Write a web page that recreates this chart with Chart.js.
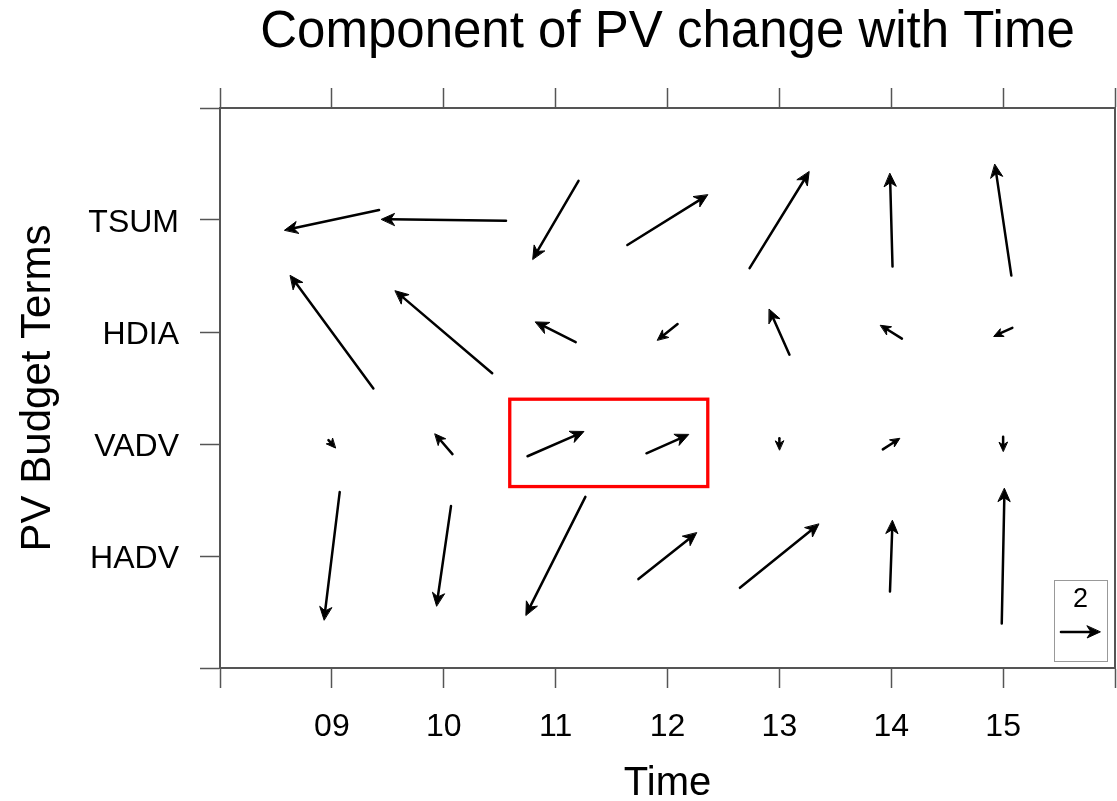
<!DOCTYPE html>
<html lang="en">
<head>
    <meta charset="UTF-8">
    <title>Component of PV change with Time</title>
    <script src="https://cdn.jsdelivr.net/npm/chart.js"></script>
    <style>
        html, body { margin: 0; padding: 0; background: #fff; overflow: hidden; }
        #wrap { width: 1117px; height: 801px; }
    </style>
</head>
<body>
    <div id="wrap"><canvas id="pvChart"></canvas></div>

    <script>
        // x positions (hours) and their labels
        const times = [9, 10, 11, 12, 13, 14, 15];
        const timeLabels = ['09', '10', '11', '12', '13', '14', '15'];
        // budget terms, bottom to top
        const terms = ['HADV', 'VADV', 'HDIA', 'TSUM'];

        // vector components (u = along time, v = along terms), one row per term
        const uHADV = [-0.80, -0.74, -3.04, 2.97, 4.03, 0.13, 0.14];
        const vHADV = [-6.53, -5.10, -6.04, 2.36, 3.25, 3.62, 6.89];
        const uVADV = [0.35, -0.89, 2.87, 2.15, 0.00, 0.86, 0.00];
        const vVADV = [-0.40, 1.03, 1.25, 0.95, -0.60, 0.55, -0.74];
        const uHDIA = [-4.24, -4.95, -2.05, -1.03, -1.03, -1.09, -0.94];
        const vHDIA = [5.77, 4.21, 1.03, -0.82, 2.32, 0.68, -0.43];
        const uTSUM = [-4.82, -6.36, -2.34, 4.10, 3.04, -0.13, -0.84];
        const vTSUM = [-1.03, 0.08, -4.00, 2.56, 4.92, 4.75, 5.68];

        const uRows = [uHADV, uVADV, uHDIA, uTSUM];
        const vRows = [vHADV, vVADV, vHDIA, vTSUM];

        // reference vector: magnitude 2 drawn as 0.35 time units
        const refMagnitude = 2;
        const refLengthX = 0.35;

        // highlighted region (data coords)
        const boxX = [10.59, 12.36];
        const boxY = [1.62, 2.40];

        const FONT = "'Liberation Sans', Arial, Helvetica, sans-serif";

        let points = [];
        let vecU = [];
        let vecV = [];
        terms.forEach((t, j) => {
            times.forEach((h, i) => {
                points.push({ x: h, y: j + 1 });
                vecU.push(uRows[j][i]);
                vecV.push(vRows[j][i]);
            });
        });

        function arrow(ctx, x0, y0, x1, y1) {
            const len = Math.hypot(x1 - x0, y1 - y0);
            if (len < 0.5) return;
            const ang = Math.atan2(y1 - y0, x1 - x0);
            const head = Math.max(9, Math.min(13, len * 0.4));
            const half = head * 0.46;
            const cos = Math.cos(ang), sin = Math.sin(ang);
            // shaft stops inside the head
            const sx = x1 - cos * head * 0.6, sy = y1 - sin * head * 0.6;
            ctx.beginPath();
            ctx.moveTo(x0, y0);
            ctx.lineTo(sx, sy);
            ctx.stroke();
            ctx.beginPath();
            ctx.moveTo(x1, y1);
            ctx.lineTo(x1 - cos * head - sin * half, y1 - sin * head + cos * half);
            ctx.lineTo(x1 - cos * head * 0.7, y1 - sin * head * 0.7);
            ctx.lineTo(x1 - cos * head + sin * half, y1 - sin * head - cos * half);
            ctx.closePath();
            ctx.fill();
            ctx.lineWidth = 1;
            ctx.stroke();
            ctx.lineWidth = 2.5;
        }

        const vectorPlugin = {
            id: 'vectors',
            afterDatasetsDraw(chart) {
                const ctx = chart.ctx;
                const xs = chart.scales.x, ys = chart.scales.y;
                const area = chart.chartArea;
                const ppu = (xs.getPixelForValue(8 + refLengthX) - xs.getPixelForValue(8)) / refMagnitude;
                const meta = chart.getDatasetMeta(0);

                ctx.save();
                ctx.strokeStyle = '#000';
                ctx.fillStyle = '#000';
                ctx.lineWidth = 2.5;
                ctx.lineCap = 'round';
                ctx.lineJoin = 'round';
                meta.data.forEach((pt, k) => {
                    const dx = vecU[k] * ppu, dy = -vecV[k] * ppu;
                    arrow(ctx, pt.x - dx / 2, pt.y - dy / 2, pt.x + dx / 2, pt.y + dy / 2);
                });

                // red highlight box
                ctx.strokeStyle = '#ff0000';
                ctx.lineWidth = 3.3;
                ctx.lineJoin = 'miter';
                const rx0 = xs.getPixelForValue(boxX[0]), rx1 = xs.getPixelForValue(boxX[1]);
                const ry0 = ys.getPixelForValue(boxY[1]), ry1 = ys.getPixelForValue(boxY[0]);
                ctx.strokeRect(rx0, ry0, rx1 - rx0, ry1 - ry0);

                // reference vector annotation
                const bw = 53, bh = 81;
                const bx = area.right - 8 - bw, by = area.bottom - 7 - bh;
                ctx.fillStyle = '#fff';
                ctx.fillRect(bx, by, bw, bh);
                ctx.strokeStyle = '#999';
                ctx.lineWidth = 1;
                ctx.strokeRect(bx + 0.5, by + 0.5, bw, bh);
                ctx.fillStyle = '#000';
                ctx.font = '27px ' + FONT;
                ctx.textAlign = 'center';
                ctx.textBaseline = 'middle';
                ctx.fillText(String(refMagnitude), bx + bw / 2, by + 20);
                const refPx = refMagnitude * ppu;
                ctx.strokeStyle = '#000';
                ctx.lineWidth = 2.5;
                ctx.lineJoin = 'round';
                arrow(ctx, bx + bw / 2 - refPx / 2, by + 52, bx + bw / 2 + refPx / 2, by + 52);
                ctx.restore();
            }
        };

        const axisColor = '#555';

        new Chart(document.getElementById('pvChart'), {
            type: 'scatter',
            data: {
                datasets: [{
                    data: points,
                    pointRadius: 0,
                    pointHoverRadius: 0
                }]
            },
            options: {
                responsive: true,
                maintainAspectRatio: false,
                animation: false,
                layout: { padding: 0 },
                plugins: {
                    legend: { display: false },
                    tooltip: { enabled: false },
                    title: { display: false }
                },
                scales: {
                    x: {
                        type: 'linear',
                        position: 'bottom',
                        min: 8, max: 16,
                        ticks: {
                            stepSize: 1,
                            color: '#000',
                            padding: 20,
                            font: { family: FONT, size: 32 },
                            maxRotation: 0,
                            callback: v => {
                                const i = times.indexOf(v);
                                return i >= 0 ? timeLabels[i] : '';
                            }
                        },
                        grid: { drawOnChartArea: false, tickLength: 20, tickColor: axisColor, tickWidth: 1.5 },
                        border: { color: axisColor, width: 2 },
                        title: {
                            display: true,
                            text: 'Time',
                            color: '#000',
                            font: { family: FONT, size: 40, lineHeight: 1 },
                            padding: { top: 0, bottom: -3 }
                        },
                        // fixed height, and no extra side padding for the end labels
                        afterFit: s => { s.height = 133; s.paddingLeft = 0; s.paddingRight = 0; }
                    },
                    // top axis carries the main title so it is centred over the plot
                    x2: {
                        type: 'linear',
                        position: 'top',
                        min: 8, max: 16,
                        ticks: { stepSize: 1, display: false },
                        grid: { drawOnChartArea: false, tickLength: 20, tickColor: axisColor, tickWidth: 1.5 },
                        border: { color: axisColor, width: 2 },
                        title: {
                            display: true,
                            text: 'Component of PV change with Time',
                            color: '#000',
                            font: { family: FONT, size: 51, lineHeight: 1.2 },
                            padding: { top: 2, bottom: 0 }
                        },
                        afterFit: s => { s.height = 108; s.paddingLeft = 0; s.paddingRight = 0; }
                    },
                    y: {
                        type: 'linear',
                        position: 'left',
                        min: 0, max: 5,
                        ticks: {
                            stepSize: 1,
                            color: '#000',
                            padding: 21,
                            labelOffset: 3,
                            font: { family: FONT, size: 32 },
                            callback: v => (v >= 1 && v <= 4 ? terms[v - 1] : '')
                        },
                        grid: { drawOnChartArea: false, tickLength: 20, tickColor: axisColor, tickWidth: 1.5 },
                        border: { color: axisColor, width: 2 },
                        title: {
                            display: true,
                            text: 'PV Budget Terms',
                            color: '#000',
                            font: { family: FONT, size: 42, lineHeight: 1 },
                            padding: { top: 17, bottom: 0 }
                        },
                        afterFit: s => { s.width = 220; }
                    },
                    y2: {
                        type: 'linear',
                        position: 'right',
                        min: 0, max: 5,
                        ticks: { display: false },
                        grid: { drawOnChartArea: false, drawTicks: false },
                        border: { color: axisColor, width: 2 },
                        afterFit: s => { s.width = 2; }
                    }
                }
            },
            plugins: [vectorPlugin]
        });
    </script>
</body>
</html>
